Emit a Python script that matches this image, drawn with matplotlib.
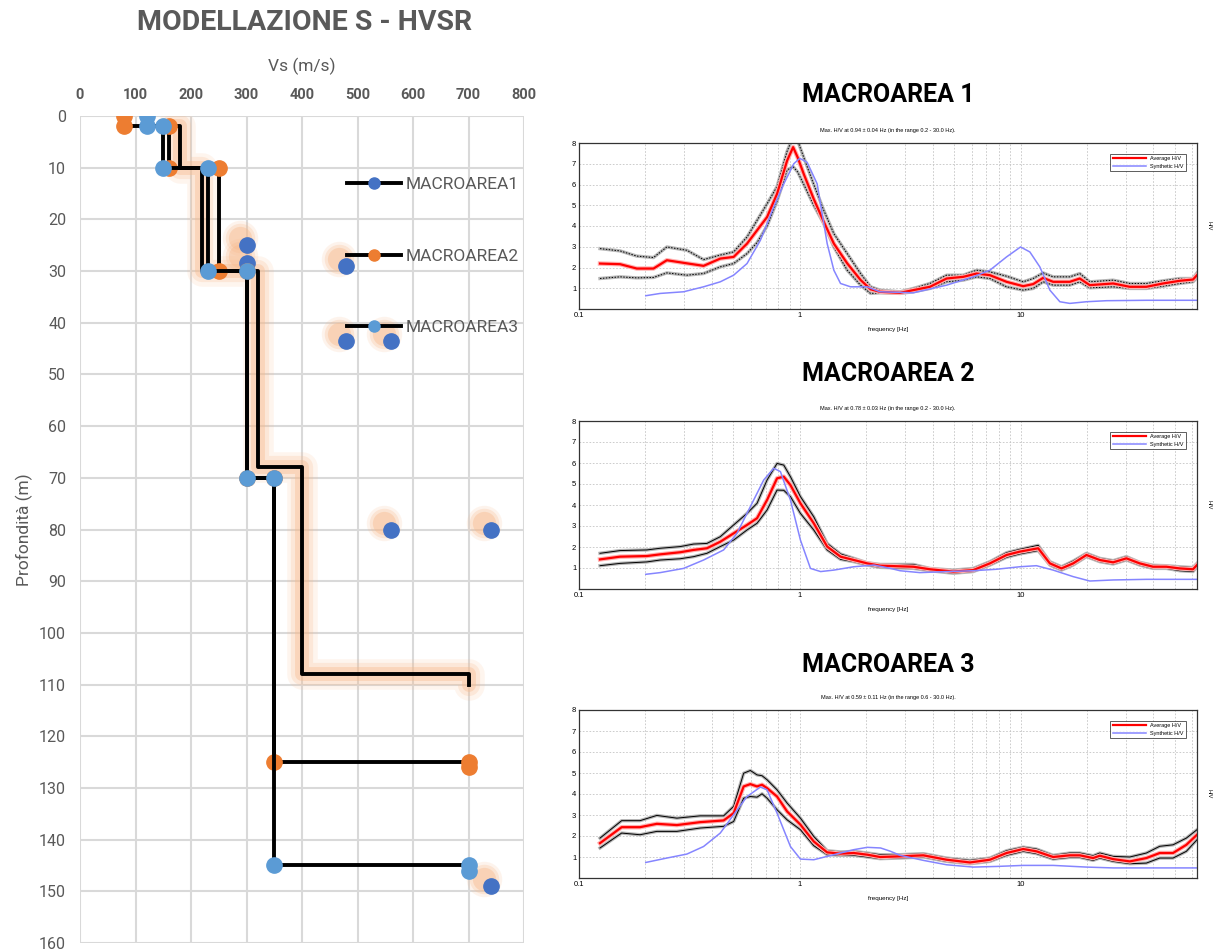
import numpy as np
import matplotlib
matplotlib.use('Agg')
import matplotlib.pyplot as plt
from matplotlib.lines import Line2D
from matplotlib.ticker import FixedLocator, FixedFormatter, NullFormatter
from matplotlib.transforms import offset_copy

# ---- Vs profiles (Vs in m/s, depth in m) ----
vs_m1 = [165, 180, 180, 220, 220, 320, 320, 400, 400, 700, 700]
depth_m1 = [2, 2, 10, 10, 30, 30, 68, 68, 108, 108, 110]
vs_m1_pts = [300, 300, 480, 480, 560, 560, 740, 740]
depth_m1_pts = [25, 28.5, 29, 43.5, 43.5, 80, 80, 149]
vs_m2 = [80, 80, 160, 160, 250, 250, 300, 300, 350, 350, 700, 700]
depth_m2 = [0, 2, 2, 10, 10, 30, 30, 70, 70, 125, 125, 126]
vs_m3 = [120, 120, 150, 150, 230, 230, 300, 300, 350, 350, 700, 700]
depth_m3 = [0, 2, 2, 10, 10, 30, 30, 70, 70, 145, 145, 146]
series_names = ['MACROAREA1', 'MACROAREA2', 'MACROAREA3']
series_colors = ['#4472C4', '#ED7D31', '#5B9BD5']

# ---- HVSR curves ----
f1 = [0.1245, 0.1535, 0.1827, 0.2175, 0.25, 0.3082, 0.3667, 0.4364, 0.5017, 0.5768,
      0.6404, 0.711, 0.789, 0.8762, 0.933, 0.979, 1.043, 1.157, 1.285, 1.427,
      1.64, 1.885, 2.093, 2.31, 2.845, 3.267, 3.888, 4.627, 5.502, 6.322,
      7.264, 8.643, 10.28, 11.41, 12.66, 14.05, 16.72, 18.55, 20.59, 26.27,
      31.24, 37.16, 44.22, 52.6, 60.42, 63.0]
avg1 = [2.19, 2.16, 1.95, 1.95, 2.35, 2.2, 2.08, 2.43, 2.51, 3.15,
        3.79, 4.43, 5.55, 7.15, 7.8, 7.3, 6.5, 5.3, 4.2, 3.15,
        2.2, 1.4, 0.95, 0.83, 0.78, 0.91, 1.07, 1.47, 1.55, 1.71,
        1.63, 1.31, 1.10, 1.2, 1.5, 1.31, 1.31, 1.47, 1.15, 1.23,
        1.07, 1.07, 1.23, 1.36, 1.42, 1.63]
hi1 = [2.91, 2.8, 2.55, 2.48, 2.99, 2.83, 2.38, 2.6, 2.75, 3.47,
       4.27, 5.07, 5.9, 7.6, 8.3, 8.1, 7.3, 6.0, 4.75, 3.63,
       2.67, 1.71, 1.07, 0.91, 0.83, 0.99, 1.23, 1.63, 1.63, 1.87,
       1.79, 1.58, 1.31, 1.47, 1.74, 1.55, 1.55, 1.71, 1.31, 1.39,
       1.23, 1.23, 1.36, 1.47, 1.47, 1.74]
lo1 = [1.47, 1.55, 1.5, 1.52, 1.74, 1.63, 1.71, 2.03, 2.19, 2.67,
       3.2, 4.0, 5.2, 6.7, 6.86, 6.6, 6.0, 5.0, 4.11, 2.99,
       1.87, 1.15, 0.75, 0.78, 0.75, 0.83, 0.99, 1.31, 1.39, 1.55,
       1.47, 1.07, 0.91, 0.99, 1.31, 1.15, 1.15, 1.31, 1.02, 1.07,
       0.99, 0.99, 1.1, 1.23, 1.31, 1.52]
fs1 = [0.2007, 0.2332, 0.2976, 0.3667, 0.4364, 0.5017, 0.5768, 0.663, 0.7621, 0.8462,
       0.9393, 1.0, 1.08, 1.199, 1.331, 1.427, 1.53, 1.698, 2.021, 2.31,
       3.267, 4.627, 6.106, 7.264, 8.643, 10.0, 11.02, 12.23, 13.58, 15.07,
       16.72, 19.89, 24.5, 37.16, 63.0]
syn1 = [0.64, 0.75, 0.83, 1.07, 1.31, 1.63, 2.19, 3.31, 4.91, 6.03,
        7.0, 7.26, 7.07, 6.03, 3.15, 1.87, 1.23, 1.07, 1.07, 0.83,
        0.78, 1.15, 1.55, 1.87, 2.51, 2.99, 2.75, 2.03, 0.91, 0.35,
        0.27, 0.35, 0.4, 0.42, 0.42]

f2 = [0.1245, 0.1535, 0.203, 0.2332, 0.2874, 0.3304, 0.3797, 0.4364, 0.5017, 0.5768,
      0.6404, 0.711, 0.789, 0.8462, 0.9072, 1.007, 1.157, 1.331, 1.53, 1.758,
      2.021, 2.31, 3.267, 3.888, 4.958, 6.106, 7.264, 8.643, 9.93, 12.02,
      13.58, 15.33, 17.31, 19.89, 22.86, 26.27, 30.17, 34.67, 39.84, 45.77,
      52.6, 60.42, 63.0]
avg2 = [1.41, 1.54, 1.57, 1.65, 1.75, 1.86, 1.94, 2.25, 2.65, 3.05,
        3.37, 4.24, 5.27, 5.35, 4.95, 4.08, 3.13, 2.02, 1.54, 1.38,
        1.22, 1.11, 1.06, 0.94, 0.83, 0.9, 1.22, 1.62, 1.78, 1.94,
        1.22, 0.98, 1.22, 1.62, 1.38, 1.27, 1.46, 1.22, 1.06, 1.06,
        0.98, 0.94, 1.14]
hi2 = [1.70, 1.83, 1.86, 1.94, 2.02, 2.14, 2.17, 2.49, 3.05, 3.6,
       4.08, 5.19, 5.98, 5.9, 5.35, 4.4, 3.44, 2.17, 1.67, 1.46,
       1.25, 1.17, 1.17, 0.98, 0.9, 0.98, 1.3, 1.73, 1.89, 2.08,
       1.3, 1.06, 1.33, 1.7, 1.46, 1.35, 1.54, 1.27, 1.13, 1.11,
       1.06, 1.02, 1.22]
lo2 = [1.11, 1.22, 1.29, 1.38, 1.44, 1.54, 1.70, 2.02, 2.33, 2.81,
       3.13, 3.76, 4.71, 4.7, 4.4, 3.6, 2.81, 1.86, 1.41, 1.3,
       1.14, 1.03, 0.98, 0.87, 0.75, 0.83, 1.14, 1.51, 1.67, 1.83,
       1.14, 0.9, 1.14, 1.54, 1.3, 1.19, 1.38, 1.14, 0.98, 0.98,
       0.87, 0.83, 1.06]
fs2 = [0.2007, 0.2332, 0.2976, 0.3667, 0.4519, 0.5195, 0.5972, 0.6866, 0.7621, 0.8172,
       0.9072, 1.007, 1.118, 1.243, 1.427, 1.758, 2.167, 2.58, 2.845, 3.502,
       4.627, 6.106, 7.785, 9.93, 11.81, 14.05, 17.31, 20.59, 26.27, 37.16, 63.0]
syn2 = [0.7, 0.78, 0.98, 1.38, 1.86, 2.65, 3.92, 5.19, 5.75, 5.59,
        4.24, 2.33, 0.98, 0.83, 0.9, 1.06, 1.14, 0.98, 0.87, 0.78,
        0.83, 0.87, 0.94, 1.06, 1.11, 0.9, 0.59, 0.38, 0.43, 0.46, 0.46]

f3 = [0.1245, 0.156, 0.189, 0.2252, 0.2776, 0.3542, 0.4519, 0.5017, 0.557, 0.5972,
      0.6404, 0.6747, 0.711, 0.789, 0.8762, 1.007, 1.157, 1.331, 1.53, 1.758,
      2.021, 2.31, 2.845, 3.627, 4.627, 5.898, 7.264, 8.643, 10.28, 11.81,
      14.05, 16.72, 18.55, 21.32, 22.86, 26.27, 31.24, 37.16, 42.71, 49.07,
      56.37, 63.0]
avg3 = [1.66, 2.42, 2.42, 2.58, 2.52, 2.66, 2.74, 3.09, 4.36, 4.47,
        4.36, 4.44, 4.28, 3.88, 3.17, 2.54, 1.74, 1.22, 1.16, 1.19,
        1.11, 1.0, 1.03, 1.08, 0.87, 0.74, 0.87, 1.19, 1.38, 1.27,
        1.0, 1.08, 1.08, 0.95, 1.06, 0.9, 0.79, 0.95, 1.19, 1.19,
        1.58, 2.06]
hi3 = [1.9, 2.73, 2.73, 2.98, 2.85, 2.96, 2.96, 3.41, 4.99, 5.12,
       4.91, 4.87, 4.68, 4.2, 3.57, 2.85, 1.98, 1.3, 1.24, 1.27,
       1.19, 1.11, 1.11, 1.16, 0.95, 0.84, 0.95, 1.3, 1.47, 1.38,
       1.08, 1.19, 1.19, 1.06, 1.19, 1.03, 1.0, 1.19, 1.51, 1.58,
       1.9, 2.3]
lo3 = [1.43, 2.14, 2.06, 2.22, 2.22, 2.38, 2.46, 2.69, 3.8, 3.88,
       3.85, 4.01, 3.8, 3.25, 2.77, 2.3, 1.54, 1.11, 1.08, 1.08,
       1.0, 0.92, 0.95, 1.0, 0.79, 0.68, 0.79, 1.08, 1.27, 1.16,
       0.9, 0.98, 0.98, 0.84, 0.95, 0.79, 0.68, 0.71, 0.95, 0.95,
       1.27, 1.82]
fs3 = [0.2007, 0.25, 0.3082, 0.3667, 0.4364, 0.5017, 0.5768, 0.663, 0.711, 0.789,
       0.9072, 1.007, 1.157, 1.427, 1.758, 2.021, 2.323, 2.58, 2.845, 3.627,
       4.627, 6.106, 7.785, 10.28, 14.05, 19.89, 26.27, 37.16, 63.0]
syn3 = [0.74, 0.95, 1.14, 1.5, 2.14, 3.01, 3.88, 4.33, 4.2, 3.09,
        1.5, 0.9, 0.87, 1.11, 1.35, 1.46, 1.43, 1.27, 1.08, 0.84,
        0.63, 0.52, 0.55, 0.6, 0.6, 0.52, 0.48, 0.48, 0.48]

freq_ticks = [0.1, 1, 10]
freq_labels = ['0.1', '1', '10']
freq_grid = [0.2, 0.3, 0.4, 0.5, 0.6, 0.7, 0.8, 0.9, 2, 3, 4, 5, 6, 7, 8, 9, 20, 30, 40, 50, 60]

panel_titles = ['MACROAREA 1', 'MACROAREA 2', 'MACROAREA 3']
panel_notes = ['Max. H/V at 0.94 \u00b1 0.04 Hz (in the range 0.2 - 30.0 Hz).',
               'Max. H/V at 0.78 \u00b1 0.03 Hz (in the range 0.2 - 30.0 Hz).',
               'Max. H/V at 0.59 \u00b1 0.11 Hz (in the range 0.6 - 30.0 Hz).']

narrow = ['Roboto', 'DejaVu Sans']
gray = '#595959'

fig = plt.figure(figsize=(12.2, 9.51), dpi=100)

# ================= left: Vs profile =================
ax = fig.add_axes([0.0656, 0.0084, 0.364, 0.8696])
ax.set_xlim(0, 800)
ax.set_ylim(160, 0)
ax.set_xticks(np.arange(0, 801, 100))
ax.set_yticks(np.arange(0, 161, 10))
ax.xaxis.tick_top()
ax.xaxis.set_label_position('top')
ax.tick_params(length=0, colors=gray, pad=10)
for lab in ax.get_xticklabels():
    lab.set_fontweight('bold')
    lab.set_fontsize(10.5)
    lab.set_family(narrow)
for lab in ax.get_yticklabels():
    lab.set_fontsize(11.5)
    lab.set_family(narrow)
ax.grid(True, color='#D9D9D9', lw=1.5)
ax.set_axisbelow(True)
for s in ax.spines.values():
    s.set_visible(False)
ax.set_xlabel('Vs (m/s)', fontsize=12.5, color=gray, family=narrow, labelpad=12)
ax.set_ylabel('Profondità (m)', fontsize=12.5, color=gray, family=narrow, labelpad=4)

# orange glow on MACROAREA1 line
for lw, a in [(22, 0.14), (16, 0.22), (10, 0.38)]:
    ax.plot(vs_m1, depth_m1, color='#F8B98C', lw=lw, alpha=a,
            solid_joinstyle='round', solid_capstyle='round')
ax.plot(vs_m1, depth_m1, color='black', lw=2.8)

# glow behind MACROAREA1 points (shifted up-left)
glow_tr = offset_copy(ax.transData, fig=fig, x=-7, y=7, units='dots')
for s_, a in [(650, 0.16), (450, 0.26), (280, 0.4)]:
    ax.scatter(vs_m1_pts, depth_m1_pts, s=s_, color='#F8B98C', alpha=a,
               lw=0, transform=glow_tr, zorder=3)
ax.plot(vs_m1_pts, depth_m1_pts, ls='none', marker='o', ms=11,
        color=series_colors[0], zorder=4)

ax.plot(vs_m2, depth_m2, color='black', lw=2.8, marker='o', ms=11,
        mfc=series_colors[1], mec=series_colors[1], zorder=5)
ax.plot(vs_m3, depth_m3, color='black', lw=2.8, marker='o', ms=11,
        mfc=series_colors[2], mec=series_colors[2], zorder=6)

handles = [Line2D([], [], color='black', lw=2.8, marker='o', ms=8,
                  mfc=c, mec=c) for c in series_colors]
leg = ax.legend(handles, series_names, loc='upper left', bbox_to_anchor=(0.566, 0.945),
                frameon=False, labelspacing=3.25, handlelength=3.1, handletextpad=0.3,
                prop={'family': narrow, 'size': 12.5})
for t in leg.get_texts():
    t.set_color(gray)

fig.text(0.25, 1 - 22 / 951, 'MODELLAZIONE S - HVSR', ha='center', va='center',
         fontsize=20.5, fontweight='bold', color=gray, family=narrow)

# ================= right: HVSR panels =================
panels = [
    (f1, avg1, hi1, lo1, fs1, syn1, (0, (1.5, 1.5))),
    (f2, avg2, hi2, lo2, fs2, syn2, '-'),
    (f3, avg3, hi3, lo3, fs3, syn3, '-'),
]
bottoms = [1 - 309 / 951, 1 - 589 / 951, 1 - 878 / 951]
heights = [166 / 951, 168 / 951, 168 / 951]
title_y = [95, 374, 665]
small = ['Liberation Sans', 'DejaVu Sans']

for i, (f, avg, hi, lo, fs, syn, std_ls) in enumerate(panels):
    a = fig.add_axes([579 / 1220, bottoms[i], 618 / 1220, heights[i]])
    a.set_xscale('log')
    a.set_xlim(0.1, 63)
    a.set_ylim(0, 8)
    a.xaxis.set_major_locator(FixedLocator(freq_ticks))
    a.xaxis.set_major_formatter(FixedFormatter(freq_labels))
    a.xaxis.set_minor_locator(FixedLocator(freq_grid))
    a.xaxis.set_minor_formatter(NullFormatter())
    a.set_yticks(range(1, 9))
    a.grid(True, which='both', color='#c4c4c4', ls=(0, (2, 2)), lw=0.6)
    for curve in (hi, lo):
        a.plot(f, curve, color='#b5b5b5', lw=2.4)
        a.plot(f, curve, color='black', lw=0.7, ls=std_ls)
    a.plot(f, avg, color='#ffb0b0', lw=3.2)
    a.plot(f, avg, color='#ff0000', lw=1.6, label='Average H/V')
    a.plot(fs, syn, color='#8585ff', lw=1.1, label='Synthetic H/V')
    a.tick_params(which='both', length=0, labelsize=5.5, pad=2)
    for lab in a.get_xticklabels() + a.get_yticklabels():
        lab.set_family(small)
    for s in a.spines.values():
        s.set_color('#333333')
        s.set_linewidth(0.9)
    a.set_title(panel_notes[i], fontsize=4, pad=8, family=small)
    a.set_xlabel('frequency [Hz]', fontsize=4.5, labelpad=6, family=small)
    a.text(1.015, 0.5, 'H/V', rotation=-90, transform=a.transAxes, fontsize=4,
           va='center', family=small)
    lg = a.legend(loc='upper right', frameon=True, fancybox=False, borderaxespad=2.0,
                  handlelength=6, prop={'family': small, 'size': 4})
    lg.get_frame().set_edgecolor('#333333')
    lg.get_frame().set_linewidth(0.7)
    fig.text(888 / 1220, 1 - title_y[i] / 951, panel_titles[i], ha='center', va='center',
             fontsize=18, fontweight='bold', color='black', family=narrow)

fig.savefig('out.png', dpi=100)
